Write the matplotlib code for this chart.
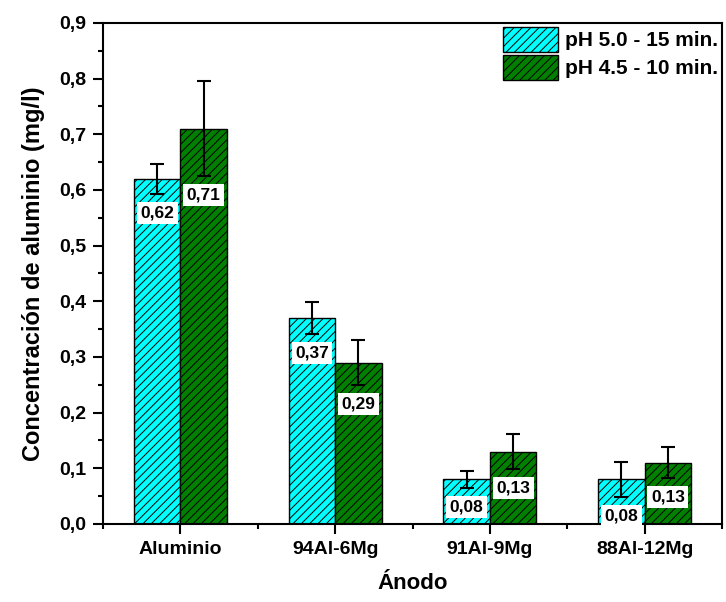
import numpy as np
import matplotlib
matplotlib.use('Agg')
import matplotlib.pyplot as plt
from matplotlib.ticker import MultipleLocator, FuncFormatter, FixedLocator

plt.rcParams['font.family'] = ['Liberation Sans', 'DejaVu Sans']
plt.rcParams['font.weight'] = 'bold'
plt.rcParams['hatch.linewidth'] = 0.7

# Data
anodes = ['Aluminio', '94Al-6Mg', '91Al-9Mg', '88Al-12Mg']
series_names = ['pH 5.0 - 15 min.', 'pH 4.5 - 10 min.']
ph50_vals = [0.62, 0.37, 0.08, 0.08]
ph50_err = [0.027, 0.029, 0.016, 0.031]
ph45_vals = [0.71, 0.29, 0.13, 0.11]
ph45_err = [0.085, 0.04, 0.032, 0.028]
ph50_labels = ['0,62', '0,37', '0,08', '0,08']
ph45_labels = ['0,71', '0,29', '0,13', '0,13']

colors = ['#00FFFF', '#007F00']
width = 0.30

fig = plt.figure(figsize=(7.26, 6.02), dpi=100)
ax = fig.add_axes([0.1419, 0.1296, 0.8526, 0.8322])

x = np.arange(len(anodes))
groups = [(ph50_vals, ph50_err, ph50_labels, -width / 2),
          (ph45_vals, ph45_err, ph45_labels, width / 2)]
for i, (vals, errs, labs, off) in enumerate(groups):
    ax.bar(x + off, vals, width, color=colors[i], edgecolor='black',
           linewidth=1.0, hatch='////', label=series_names[i], zorder=2)
    ax.errorbar(x + off, vals, yerr=errs, fmt='none', ecolor='black',
                elinewidth=1.5, capsize=5, capthick=1.5, zorder=3)
    for xi, v, e, t in zip(x + off, vals, errs, labs):
        ax.text(xi, v - e - 0.034, t, ha='center', va='center', fontsize=12.5,
                fontweight='bold', zorder=4,
                bbox=dict(boxstyle='square,pad=0.2', facecolor='white', edgecolor='none'))

ax.set_xlim(-0.5, 3.5)
ax.set_ylim(0, 0.9)
ax.set_xticks(x)
ax.set_xticklabels(anodes, fontsize=14, fontweight='bold')
ax.xaxis.set_minor_locator(FixedLocator(np.arange(-0.5, 3.6, 1.0)))
ax.yaxis.set_major_locator(MultipleLocator(0.1))
ax.yaxis.set_minor_locator(MultipleLocator(0.05))
ax.yaxis.set_major_formatter(FuncFormatter(lambda v, p: f'{v:.1f}'.replace('.', ',')))
for lab in ax.get_yticklabels():
    lab.set_fontsize(14)
    lab.set_fontweight('bold')

ax.tick_params(which='major', direction='out', length=7, width=1.5, top=False, right=False, pad=5)
ax.tick_params(which='minor', direction='out', length=3.5, width=1.5, top=False, right=False)
for s in ax.spines.values():
    s.set_linewidth(1.5)

ax.set_xlabel('Ánodo', fontsize=16, fontweight='bold', labelpad=11)
ax.set_ylabel('Concentración de aluminio (mg/l)', fontsize=17, fontweight='bold', labelpad=10)

leg = ax.legend(loc='upper right', frameon=False, fontsize=15, handlelength=2.6,
                handleheight=1.45, handletextpad=0.35, borderaxespad=0.0,
                borderpad=0.2, labelspacing=0.15)
for t in leg.get_texts():
    t.set_fontweight('bold')

fig.savefig('out.png', dpi=100)
